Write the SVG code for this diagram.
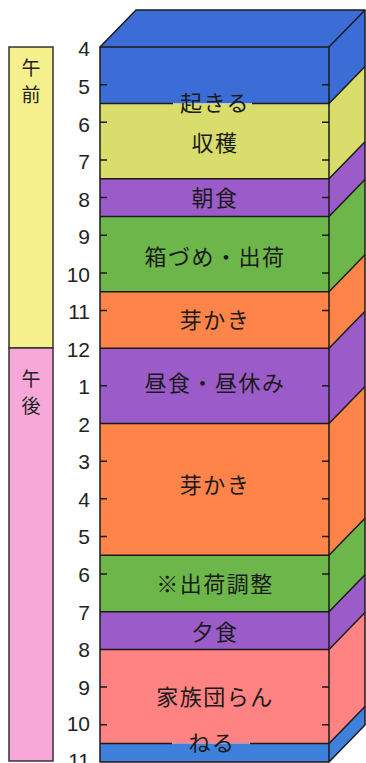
<svg xmlns="http://www.w3.org/2000/svg" width="366" height="763" viewBox="0 0 366 763">
<style>
.ln{stroke:#1a1a1a;stroke-width:1.5;fill:none;stroke-linejoin:round}
.bar{stroke:#333;stroke-width:1.5}
.tk{stroke:#1a1a1a;stroke-width:1.5}
.lbl{font-family:"Noto Sans CJK JP","Noto Sans",sans-serif;font-size:22px;fill:#1a1a1a;text-anchor:middle;letter-spacing:1.5px}
.num{font-family:"Liberation Sans","DejaVu Sans",sans-serif;font-size:21px;fill:#222;text-anchor:end}
.ap{font-family:"Noto Sans CJK JP",sans-serif;font-size:19px;fill:#222;text-anchor:middle}
.blue{fill:#3c6dd6}.yel{fill:#d8dd6c}.pur{fill:#9b5cc9}.grn{fill:#6db64a}.org{fill:#ff8449}.sal{fill:#ff8383}.blue2{fill:#3f80dc}
</style>
<rect width="366" height="763" fill="#fff"/>
<g id="ampm">
<rect class="bar" x="9" y="47" width="44" height="301" fill="#f6f08c"/>
<rect class="bar" x="9" y="348" width="44" height="413" fill="#f7a8d9"/>
<text class="ap" x="31" y="75">午</text>
<text class="ap" x="31" y="102">前</text>
<text class="ap" x="31" y="386">午</text>
<text class="ap" x="31" y="413">後</text>
</g>
<g id="top-face">
<polygon class="blue" points="100,47 136,10 365,10 329,47"/>
</g>
<g id="band-wake">
<rect class="blue" x="100" y="47" width="229" height="56.5"/>
<polygon class="blue" points="329,47 365,10 365,66.5 329,103.5"/>
</g>
<g id="band-harvest">
<rect class="yel" x="100" y="103.5" width="229" height="75.3"/>
<polygon class="yel" points="329,103.5 365,66.5 365,141.8 329,178.8"/>
<text class="lbl" x="215" y="151">収穫</text>
</g>
<g id="band-breakfast">
<rect class="pur" x="100" y="178.8" width="229" height="37.6"/>
<polygon class="pur" points="329,178.8 365,141.8 365,179.4 329,216.4"/>
<text class="lbl" x="215" y="205.5">朝食</text>
</g>
<g id="band-pack">
<rect class="grn" x="100" y="216.4" width="229" height="75.3"/>
<polygon class="grn" points="329,216.4 365,179.4 365,254.7 329,291.7"/>
<text class="lbl" x="215" y="265">箱づめ・出荷</text>
</g>
<g id="band-bud1">
<rect class="org" x="100" y="291.7" width="229" height="56.5"/>
<polygon class="org" points="329,291.7 365,254.7 365,311.2 329,348.2"/>
<text class="lbl" x="215" y="328">芽かき</text>
</g>
<g id="band-lunch">
<rect class="pur" x="100" y="348.2" width="229" height="75.3"/>
<polygon class="pur" points="329,348.2 365,311.2 365,386.5 329,423.5"/>
<text class="lbl" x="215" y="391">昼食・昼休み</text>
</g>
<g id="band-bud2">
<rect class="org" x="100" y="423.5" width="229" height="131.8"/>
<polygon class="org" points="329,423.5 365,386.5 365,518.3 329,555.3"/>
<text class="lbl" x="215" y="493">芽かき</text>
</g>
<g id="band-adjust">
<rect class="grn" x="100" y="555.3" width="229" height="56.45"/>
<polygon class="grn" points="329,555.3 365,518.3 365,574.75 329,611.75"/>
<text class="lbl" x="215" y="592">※出荷調整</text>
</g>
<g id="band-dinner">
<rect class="pur" x="100" y="611.75" width="229" height="37.65"/>
<polygon class="pur" points="329,611.75 365,574.75 365,612.4 329,649.4"/>
<text class="lbl" x="215" y="640">夕食</text>
</g>
<g id="band-family">
<rect class="sal" x="100" y="649.4" width="229" height="94.1"/>
<polygon class="sal" points="329,649.4 365,612.4 365,706.5 329,743.5"/>
<text class="lbl" x="215" y="705">家族団らん</text>
</g>
<g id="band-sleep">
<rect class="blue2" x="100" y="743.5" width="229" height="18.5"/>
<polygon class="blue2" points="329,743.5 365,706.5 365,725 329,762"/>
</g>
<g id="connectors">
<path class="ln" d="M100,47 L136,10 H365 L329,47 Z"/>
<path class="ln" d="M100,47 V762 H329 V47 M329,762 L365,725 V10"/>
<path class="ln" d="M100,103.5 H173 M252,103.5 H329 L365,66.5"/>
<path class="ln" d="M100,178.8 H329 L365,141.8"/>
<path class="ln" d="M100,216.4 H329 L365,179.4"/>
<path class="ln" d="M100,291.7 H329 L365,254.7"/>
<path class="ln" d="M100,348.2 H329 L365,311.2"/>
<path class="ln" d="M100,423.5 H329 L365,386.5"/>
<path class="ln" d="M100,555.3 H329 L365,518.3"/>
<path class="ln" d="M100,611.75 H329 L365,574.75"/>
<path class="ln" d="M100,649.4 H329 L365,612.4"/>
<path class="ln" d="M100,743.5 H172 M250,743.5 H329 L365,706.5"/>
<g class="tk">
<path d="M100,84.65h7M322,84.65h7M100,122.3h7M322,122.3h7M100,159.95h7M322,159.95h7M100,197.6h7M322,197.6h7M100,235.25h7M322,235.25h7M100,272.9h7M322,272.9h7M100,310.55h7M322,310.55h7M100,385.85h7M322,385.85h7M100,461.15h7M322,461.15h7M100,498.8h7M322,498.8h7M100,536.45h7M322,536.45h7M100,574.1h7M322,574.1h7M100,687.05h7M322,687.05h7M100,724.7h7M322,724.7h7"/>
</g>
</g>
<g id="labels-wake-sleep">
<text class="lbl" x="215" y="111">起きる</text>
<text class="lbl" x="212" y="751">ねる</text>
</g>
<g id="hours">
<text class="num" x="90" y="56">4</text>
<text class="num" x="90" y="94">5</text>
<text class="num" x="90" y="131.5">6</text>
<text class="num" x="90" y="169">7</text>
<text class="num" x="90" y="206.5">8</text>
<text class="num" x="90" y="244">9</text>
<text class="num" x="90" y="281.5">10</text>
<text class="num" x="90" y="319">11</text>
<text class="num" x="90" y="356.5">12</text>
<text class="num" x="90" y="394">1</text>
<text class="num" x="90" y="431.5">2</text>
<text class="num" x="90" y="469">3</text>
<text class="num" x="90" y="506.5">4</text>
<text class="num" x="90" y="544">5</text>
<text class="num" x="90" y="582">6</text>
<text class="num" x="90" y="619.5">7</text>
<text class="num" x="90" y="657">8</text>
<text class="num" x="90" y="695">9</text>
<text class="num" x="90" y="731">10</text>
<text class="num" x="90" y="768">11</text>
</g>
</svg>
